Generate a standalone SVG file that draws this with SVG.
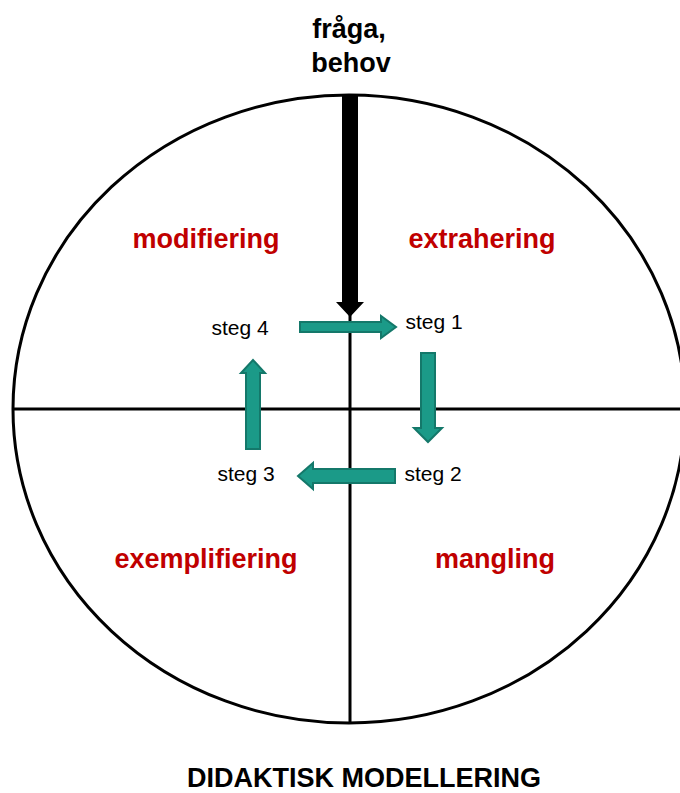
<svg xmlns="http://www.w3.org/2000/svg" width="680" height="793" viewBox="0 0 680 793">
<style>
.lbl{font-family:"Liberation Sans",Arial,sans-serif;font-weight:bold;font-size:27px;fill:#C00000;text-anchor:middle}
.steg{font-family:"Liberation Sans",Arial,sans-serif;font-size:21px;fill:#000;text-anchor:middle}
.ttl{font-family:"Liberation Sans",Arial,sans-serif;font-weight:bold;font-size:27px;fill:#000;text-anchor:middle}
.ga{fill:#1B9A88;stroke:#14786A;stroke-width:2;stroke-linejoin:miter}
.ax{stroke:#000;stroke-width:3;fill:none}
</style>
<rect width="680" height="793" fill="#fff"/>
<g id="circle">
<ellipse cx="349" cy="409" rx="336" ry="314" class="ax"/>
<line x1="13" y1="409" x2="680" y2="409" class="ax"/>
<line x1="350" y1="95" x2="350" y2="723" class="ax"/>
</g>
<g id="input">
<text class="ttl" x="349" y="38">fråga,</text>
<text class="ttl" x="351" y="72">behov</text>
</g>
<g id="quadrants">
<text id="modifiering" class="lbl" x="206" y="248">modifiering</text>
<text id="extrahering" class="lbl" x="482" y="248">extrahering</text>
<text id="exemplifiering" class="lbl" x="206" y="568">exemplifiering</text>
<text id="mangling" class="lbl" x="495" y="568">mangling</text>
</g>
<g id="steps">
<text id="steg1" class="steg" x="434" y="329">steg 1</text>
<text id="steg2" class="steg" x="433" y="481">steg 2</text>
<text id="steg3" class="steg" x="246" y="481">steg 3</text>
<text id="steg4" class="steg" x="240" y="335">steg 4</text>
</g>
<g id="connectors">
<polygon fill="#000" points="342,95 358,95 358,302 364,302 350,317 336,302 342,302"/>
<polygon class="ga" points="300,322 381,322 381,316 396,327 381,338 381,332 300,332"/>
<polygon class="ga" points="421,353 435,353 435,428 442,428 428,442 414,428 421,428"/>
<polygon class="ga" points="395,469 313,469 313,463 298,476 313,489 313,483 395,483"/>
<polygon class="ga" points="246,449 260,449 260,373 265,373 253,360 241,373 246,373"/>
</g>
<g id="title">
<text class="ttl" x="364" y="787">DIDAKTISK MODELLERING</text>
</g>
</svg>
